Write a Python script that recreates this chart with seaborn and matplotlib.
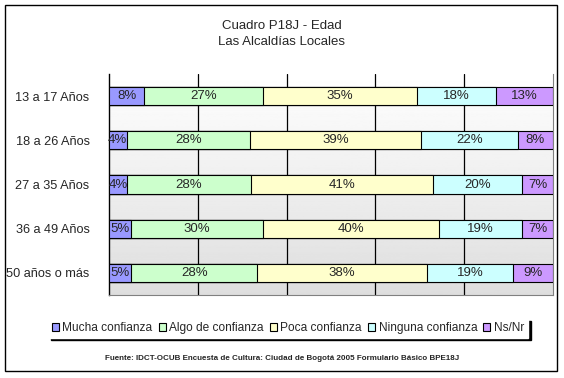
import numpy as np
import pandas as pd
import matplotlib
matplotlib.use('Agg')
import matplotlib.pyplot as plt
import seaborn as sns
from matplotlib.patches import Rectangle, Patch
from matplotlib.ticker import FixedLocator

# Data (percent per age group)
edades = ['13 a 17 Años', '18 a 26 Años', '27 a 35 Años', '36 a 49 Años', '50 años o más']
series = ['Mucha confianza', 'Algo de confianza', 'Poca confianza', 'Ninguna confianza', 'Ns/Nr']
mucha = [8, 4, 4, 5, 5]
algo = [27, 28, 28, 30, 28]
poca = [35, 39, 41, 40, 38]
ninguna = [18, 22, 20, 19, 19]
nsnr = [13, 8, 7, 7, 9]
colores = ['#9999FF', '#CCFFCC', '#FFFFCC', '#CCFFFF', '#CC99FF']

sns.set_style('white')
plt.rcParams['font.family'] = ['Liberation Sans', 'DejaVu Sans']

df = pd.DataFrame({'edad': edades, 'Mucha confianza': mucha, 'Algo de confianza': algo,
                   'Poca confianza': poca, 'Ninguna confianza': ninguna, 'Ns/Nr': nsnr})
# 100% stacked: normalise each row
vals = df[series].div(df[series].sum(axis=1), axis=0) * 100
cum = vals.cumsum(axis=1)

fig = plt.figure(figsize=(5.64, 3.78), dpi=100)
ax = fig.add_axes([109 / 564, 1 - 295 / 378, 444 / 564, 221 / 378])

# gradient background of plot area
grad = np.linspace(1.0, 0.87, 256).reshape(-1, 1)
ax.imshow(grad, cmap='gray', vmin=0, vmax=1, extent=[0, 1, 0, 1], transform=ax.transAxes,
          aspect='auto', zorder=0)

# draw cumulative bars back to front
for i in range(len(series) - 1, -1, -1):
    sns.barplot(x=cum[series[i]], y=df['edad'], orient='h', color=colores[i],
                saturation=1, width=0.41, edgecolor='black', linewidth=0.8, ax=ax, zorder=3)

# segment labels
for r in range(len(edades)):
    left = 0
    for s in series:
        w = vals.loc[r, s]
        ax.text(left + w / 2, r, f"{df.loc[r, s]}%", ha='center', va='center',
                fontsize=9.5, zorder=5)
        left += w

ax.set_xlim(0, 100)
ax.set_ylim(4.5, -0.5)
ax.set_xlabel('')
ax.set_ylabel('')
ax.set_xticks([20, 40, 60, 80])
ax.xaxis.grid(True, color='black', linewidth=0.9, zorder=1)
ax.set_axisbelow(True)
ax.tick_params(axis='x', length=0, labelbottom=False)
ax.tick_params(axis='y', which='major', length=0, labelsize=9.2, pad=14)
ax.yaxis.set_minor_locator(FixedLocator([0.5, 1.5, 2.5, 3.5, 4.5]))
ax.tick_params(axis='y', which='minor', length=4, width=1, color='black', direction='out')
ax.spines['top'].set_visible(False)
ax.spines['left'].set_color('black')
ax.spines['right'].set_color('#808080')
ax.spines['bottom'].set_color('#808080')
ax.spines['left'].set_linewidth(1)

fig.text(0.5, 1 - 26 / 378, 'Cuadro P18J - Edad', ha='center', va='center', fontsize=9.5)
fig.text(0.5, 1 - 42 / 378, 'Las Alcaldías Locales', ha='center', va='center', fontsize=9.5)

handles = [Patch(facecolor=c, edgecolor='black', linewidth=0.8) for c in colores]
leg = fig.legend(handles, series, loc='center', bbox_to_anchor=(288 / 564, 1 - 328 / 378),
                 ncol=5, fontsize=8.6, frameon=True, fancybox=False, edgecolor='white',
                 handlelength=0.6, handleheight=0.6, handletextpad=0.3, columnspacing=0.5,
                 borderpad=0.3, shadow={'color': 'black', 'alpha': 1, 'ox': 2, 'oy': -2})

fig.text(0.5, 1 - 358 / 378,
         'Fuente: IDCT-OCUB Encuesta de Cultura: Ciudad de Bogotá 2005 Formulario Básico BPE18J',
         ha='center', va='center', fontsize=5.8, fontweight='bold')

fig.patches.append(Rectangle((5 / 564, 1 - 371 / 378), 552 / 564, 366 / 378,
                             transform=fig.transFigure, fill=False, edgecolor='black',
                             linewidth=1))

fig.savefig('out.png', dpi=100)
